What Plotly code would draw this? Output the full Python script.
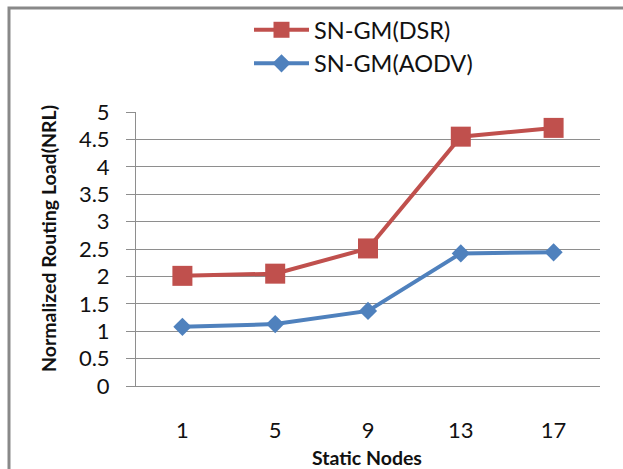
import plotly.graph_objects as go

categories = ["1", "5", "9", "13", "17"]
dsr = [2.01, 2.05, 2.51, 4.55, 4.71]
aodv = [1.08, 1.13, 1.37, 2.42, 2.44]
series_names = ["SN-GM(DSR)", "SN-GM(AODV)"]
y_ticks = [0, 0.5, 1, 1.5, 2, 2.5, 3, 3.5, 4, 4.5, 5]
y_labels = ["0", "0.5", "1", "1.5", "2", "2.5", "3", "3.5", "4", "4.5", "5"]

RED = "#C0504D"
BLUE = "#4F81BD"
GRID = "#8E8E8E"
FONT = "Lato"
TXT = "#111111"

fig = go.Figure()
fig.add_trace(go.Scatter(
    x=categories, y=dsr, name=series_names[0], mode="lines+markers",
    line=dict(color=RED, width=4),
    marker=dict(symbol="square", size=20, color=RED),
))
fig.add_trace(go.Scatter(
    x=categories, y=aodv, name=series_names[1], mode="lines+markers",
    line=dict(color=BLUE, width=4),
    marker=dict(symbol="diamond", size=14, color=BLUE),
))

W, H = 623, 469
L, R, T, B = 136, 23, 112, 83
pw, ph = W - L - R, H - T - B

def px_x(p):
    return (p - L) / pw

def px_y(p):
    return (H - B - p) / ph

fig.update_layout(
    width=W, height=H,
    margin=dict(l=L, r=R, t=T, b=B, autoexpand=False),
    paper_bgcolor="white", plot_bgcolor="white",
    font=dict(family=FONT, size=22, color=TXT),
    showlegend=True,
    legend=dict(
        x=px_x(249), y=px_y(8), xanchor="left", yanchor="top",
        font=dict(family=FONT, size=23.5, color=TXT),
        bgcolor="rgba(0,0,0,0)", itemwidth=55, tracegroupgap=0,
    ),
    xaxis=dict(
        type="category", range=[-0.5, 4.5],
        showgrid=False, showline=True, linecolor=GRID, linewidth=1,
        ticks="", ticklabelstandoff=25,
        tickfont=dict(family=FONT, size=22, color=TXT),
        zeroline=False, fixedrange=True,
    ),
    yaxis=dict(
        range=[0, 5], tickvals=y_ticks, ticktext=y_labels,
        showgrid=True, gridcolor=GRID, gridwidth=1,
        showline=True, linecolor=GRID, linewidth=1,
        ticks="outside", ticklen=9, tickcolor=GRID, tickwidth=1,
        ticklabelstandoff=12,
        tickfont=dict(family=FONT, size=22, color=TXT),
        zeroline=False, fixedrange=True,
    ),
    annotations=[
        dict(text="<b>Normalized Routing Load(NRL)</b>", xref="paper", yref="paper",
             x=px_x(48), y=px_y(239), textangle=-90, showarrow=False,
             font=dict(family=FONT, size=19.5, color=TXT),
             xanchor="center", yanchor="middle"),
        dict(text="<b>Static Nodes</b>", xref="paper", yref="paper",
             x=px_x(367), y=px_y(457), showarrow=False,
             font=dict(family=FONT, size=19.5, color=TXT),
             xanchor="center", yanchor="middle"),
    ],
    shapes=[
        dict(type="rect", xref="paper", yref="paper",
             x0=px_x(9), x1=px_x(700), y0=px_y(520), y1=px_y(8),
             line=dict(color="#898989", width=3), fillcolor="rgba(0,0,0,0)", layer="below"),
    ],
)

fig.write_html("out.html")
